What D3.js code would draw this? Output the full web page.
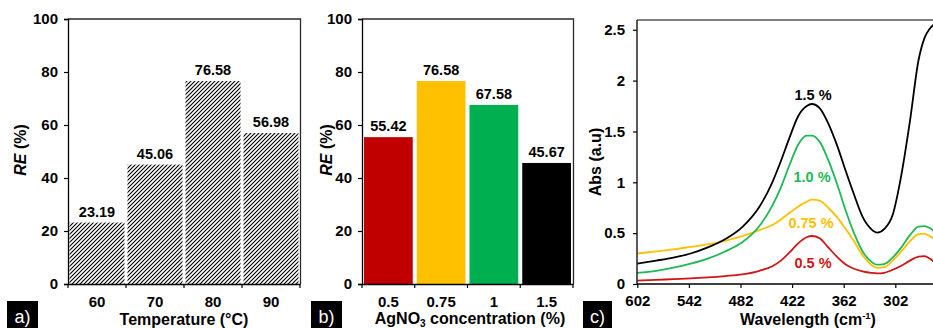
<!DOCTYPE html>
<html><head><meta charset="utf-8">
<script src="https://cdn.jsdelivr.net/npm/d3@7"></script>
<style>
html,body{margin:0;padding:0;background:#fff;}
svg{display:block;font-family:"Liberation Sans",Arial,sans-serif;font-weight:bold;}
</style></head>
<body>
<svg id="chart" width="933" height="328"></svg>
<script>
// ---- Data ----
const tempCategories = ["60", "70", "80", "90"];
const tempRE = [23.19, 45.06, 76.58, 56.98];
const agCategories = ["0.5", "0.75", "1", "1.5"];
const agRE = [55.42, 76.58, 67.58, 45.67];
const agColors = ["#c00000", "#ffc000", "#00b050", "#000000"];
const reTicks = [0, 20, 40, 60, 80, 100];
const absTicks = [0, 0.5, 1, 1.5, 2, 2.5];
const wlTicks = [602, 542, 482, 422, 362, 302];
const wavelengths = [602, 580, 560, 540, 520, 500, 480, 460, 445, 435, 425, 415, 405, 399, 390, 380, 370, 360, 350, 340, 330, 323, 315, 305, 295, 285, 275, 268, 262, 256];
const abs15 = [0.20, 0.23, 0.26, 0.30, 0.36, 0.44, 0.56, 0.76, 1.00, 1.21, 1.44, 1.65, 1.75, 1.77, 1.73, 1.58, 1.37, 1.12, 0.88, 0.66, 0.54, 0.505, 0.54, 0.68, 1.07, 1.60, 2.20, 2.42, 2.51, 2.56];
const abs10 = [0.11, 0.13, 0.16, 0.20, 0.25, 0.32, 0.41, 0.57, 0.77, 0.95, 1.17, 1.37, 1.46, 1.46, 1.40, 1.22, 0.99, 0.73, 0.50, 0.32, 0.22, 0.19, 0.195, 0.26, 0.36, 0.48, 0.565, 0.57, 0.55, 0.51];
const abs075 = [0.30, 0.32, 0.34, 0.365, 0.39, 0.425, 0.47, 0.53, 0.58, 0.635, 0.70, 0.76, 0.81, 0.83, 0.82, 0.75, 0.66, 0.545, 0.42, 0.28, 0.19, 0.16, 0.165, 0.23, 0.32, 0.42, 0.49, 0.495, 0.47, 0.44];
const abs05 = [0.033, 0.04, 0.048, 0.055, 0.065, 0.078, 0.095, 0.13, 0.175, 0.23, 0.31, 0.40, 0.46, 0.472, 0.45, 0.36, 0.27, 0.195, 0.15, 0.125, 0.11, 0.105, 0.11, 0.14, 0.18, 0.23, 0.27, 0.275, 0.25, 0.21];
const seriesNames = ["1.5 %", "1.0 %", "0.75 %", "0.5 %"];
const seriesColors = ["#000000", "#1db954", "#ffc000", "#d01515"];
const seriesValues = [abs15, abs10, abs075, abs05];

const svg = d3.select("#chart");
const defs = svg.append("defs");
const pat = defs.append("pattern").attr("id","hatch").attr("patternUnits","userSpaceOnUse")
  .attr("width",4).attr("height",4);
pat.append("rect").attr("width",4).attr("height",4).attr("fill","#fff");
pat.append("path").attr("d","M-1,1 l2,-2 M0,4 l4,-4 M3,5 l2,-2")
  .attr("stroke","#000").attr("stroke-width",1.1);

const yTop = 19, yBot = 284;
const frameColor = "#2a2a2a";
const TICK_FS = "15px", VAL_FS = "14.5px", TITLE_FS = "16px";

function drawFrame(g, x0, x1, topColor) {
  g.append("path").attr("d", `M${x0},${yTop}H${x1}V${yBot}`)
    .attr("fill","none").attr("stroke", topColor || frameColor).attr("stroke-width",1.3);
}

function styleAxis(sel) {
  sel.selectAll("path").attr("stroke","#000").attr("stroke-width",1.3);
  sel.selectAll("line").attr("stroke","#000").attr("stroke-width",1.2);
  sel.selectAll("text").attr("font-family","Liberation Sans, Arial, sans-serif")
    .attr("font-weight","bold").attr("font-size",TICK_FS).attr("fill","#000");
}

function yLabelRE(x, y) {
  const t = svg.append("text").attr("transform", `translate(${x},${y}) rotate(-90)`)
    .attr("text-anchor","middle").attr("font-size",TITLE_FS).attr("fill","#000");
  t.append("tspan").attr("font-style","italic").text("RE");
  t.append("tspan").text(" (%)");
}

function panelTag(x, w, label) {
  svg.append("rect").attr("x",x).attr("y",301).attr("width",w).attr("height",27).attr("fill","#000");
  svg.append("text").attr("x",x + w/2).attr("y",323).attr("text-anchor","middle")
    .attr("fill","#fff").attr("font-weight","normal").attr("font-size","18px").text(label);
}

// ---- Panel a ----
(function(){
  const x = d3.scaleBand().domain(tempCategories).range([68, 300]).padding(0);
  const y = d3.scaleLinear().domain([0,100]).range([yBot, yTop]);
  const g = svg.append("g");
  drawFrame(g, 68, 300.5);
  g.selectAll("rect.bar").data(tempRE).join("rect").attr("class","bar")
    .attr("x",(d,i)=>x(tempCategories[i])+1.5).attr("width",x.bandwidth()-3)
    .attr("y",d=>y(d)).attr("height",d=>yBot-y(d)).attr("fill","url(#hatch)");
  g.selectAll("text.val").data(tempRE).join("text").attr("class","val")
    .attr("x",(d,i)=>x(tempCategories[i])+x.bandwidth()/2).attr("y",d=>y(d)-6)
    .attr("text-anchor","middle").attr("font-size",VAL_FS).text(d=>d.toFixed(2));
  const ax = g.append("g").attr("transform",`translate(0,${yBot})`)
    .call(d3.axisBottom(x).tickSize(0).tickPadding(12));
  const edges = [68,126,184,242,300];
  g.selectAll("line.edge").data(edges).join("line").attr("class","edge")
    .attr("x1",d=>d).attr("x2",d=>d).attr("y1",yBot).attr("y2",yBot+4)
    .attr("stroke","#000").attr("stroke-width",1.2);
  styleAxis(ax);
  const ay = g.append("g").attr("transform","translate(68,0)")
    .call(d3.axisLeft(y).tickValues(reTicks).tickSize(4).tickPadding(6).tickFormat(d3.format("d")));
  styleAxis(ay);
  yLabelRE(26, 150);
  svg.append("text").attr("x",184).attr("y",325).attr("text-anchor","middle")
    .attr("font-size",TITLE_FS).text("Temperature (°C)");
  panelTag(7, 31, "a)");
})();

// ---- Panel b ----
(function(){
  const x = d3.scaleBand().domain(agCategories).range([362, 573]).padding(0);
  const y = d3.scaleLinear().domain([0,100]).range([yBot, yTop]);
  const g = svg.append("g");
  drawFrame(g, 362, 573.5);
  g.selectAll("rect.bar").data(agRE).join("rect").attr("class","bar")
    .attr("x",(d,i)=>x(agCategories[i])+2).attr("width",x.bandwidth()-4)
    .attr("y",d=>y(d)).attr("height",d=>yBot-y(d)).attr("fill",(d,i)=>agColors[i]);
  g.selectAll("text.val").data(agRE).join("text").attr("class","val")
    .attr("x",(d,i)=>x(agCategories[i])+x.bandwidth()/2).attr("y",d=>y(d)-6)
    .attr("text-anchor","middle").attr("font-size",VAL_FS).text(d=>d.toFixed(2));
  const ax = g.append("g").attr("transform",`translate(0,${yBot})`)
    .call(d3.axisBottom(x).tickSize(0).tickPadding(12));
  const edges = [362,414.75,467.5,520.25,573];
  g.selectAll("line.edge").data(edges).join("line").attr("class","edge")
    .attr("x1",d=>d).attr("x2",d=>d).attr("y1",yBot).attr("y2",yBot+4)
    .attr("stroke","#000").attr("stroke-width",1.2);
  styleAxis(ax);
  const ay = g.append("g").attr("transform","translate(362,0)")
    .call(d3.axisLeft(y).tickValues(reTicks).tickSize(4).tickPadding(6).tickFormat(d3.format("d")));
  styleAxis(ay);
  yLabelRE(332, 150);
  const t = svg.append("text").attr("x",470).attr("y",324).attr("text-anchor","middle").attr("font-size",TITLE_FS);
  t.append("tspan").text("AgNO");
  t.append("tspan").attr("font-size","10px").attr("dy",3).text("3");
  t.append("tspan").attr("dy",-3).text(" concentration (%)");
  panelTag(311, 31, "b)");
})();

// ---- Panel c ----
(function(){
  const x = d3.scaleLinear().domain([602, 242]).range([637.3, 637.3 + 360*0.86]);
  const y = d3.scaleLinear().domain([0, 2.6]).range([yBot, yTop + 0.6]);
  const g = svg.append("g");
  g.append("path").attr("d",`M637,${yTop+1}H940`).attr("stroke","#555").attr("stroke-width",1.3).attr("fill","none");
  defs.append("clipPath").attr("id","clipc").append("rect")
    .attr("x",637).attr("y",yTop).attr("width",310).attr("height",yBot-yTop);
  const line = d3.line().x((d,i)=>x(wavelengths[i])).y(d=>y(d)).curve(d3.curveMonotoneX);
  const cg = g.append("g").attr("clip-path","url(#clipc)");
  [3,2,1,0].forEach(k=>{
    cg.append("path").attr("d", line(seriesValues[k])).attr("fill","none")
      .attr("stroke", seriesColors[k]).attr("stroke-width",1.8);
  });
  const labelPos = [[813,100],[812,182],[811,228],[813,268]];
  seriesNames.forEach((n,k)=>{
    g.append("text").attr("x",labelPos[k][0]).attr("y",labelPos[k][1]).attr("text-anchor","middle")
      .attr("font-size",VAL_FS).attr("fill",seriesColors[k]).text(n);
  });
  const ax = g.append("g").attr("transform",`translate(0,${yBot})`)
    .call(d3.axisBottom(x).tickValues(wlTicks).tickSize(4).tickPadding(7).tickFormat(d3.format("d")));
  ax.select("path").attr("d","M637,0H940");
  styleAxis(ax);
  const ay = g.append("g").attr("transform","translate(637,0)")
    .call(d3.axisLeft(y).tickValues(absTicks).tickSize(4).tickPadding(8).tickFormat(d=>String(d)));
  ay.select("path").attr("d",`M0,${yBot}V${yTop+1}`);
  styleAxis(ay);
  svg.append("text").attr("transform","translate(601,162) rotate(-90)").attr("text-anchor","middle")
    .attr("font-size",TITLE_FS).text("Abs (a.u)");
  const t = svg.append("text").attr("x",808).attr("y",325).attr("text-anchor","middle").attr("font-size",TITLE_FS);
  t.append("tspan").text("Wavelength (cm");
  t.append("tspan").attr("font-size","9.5px").attr("dy",-6).text("-1");
  t.append("tspan").attr("dy",6).text(")");
  panelTag(583, 29, "c)");
})();
</script>
</body></html>
